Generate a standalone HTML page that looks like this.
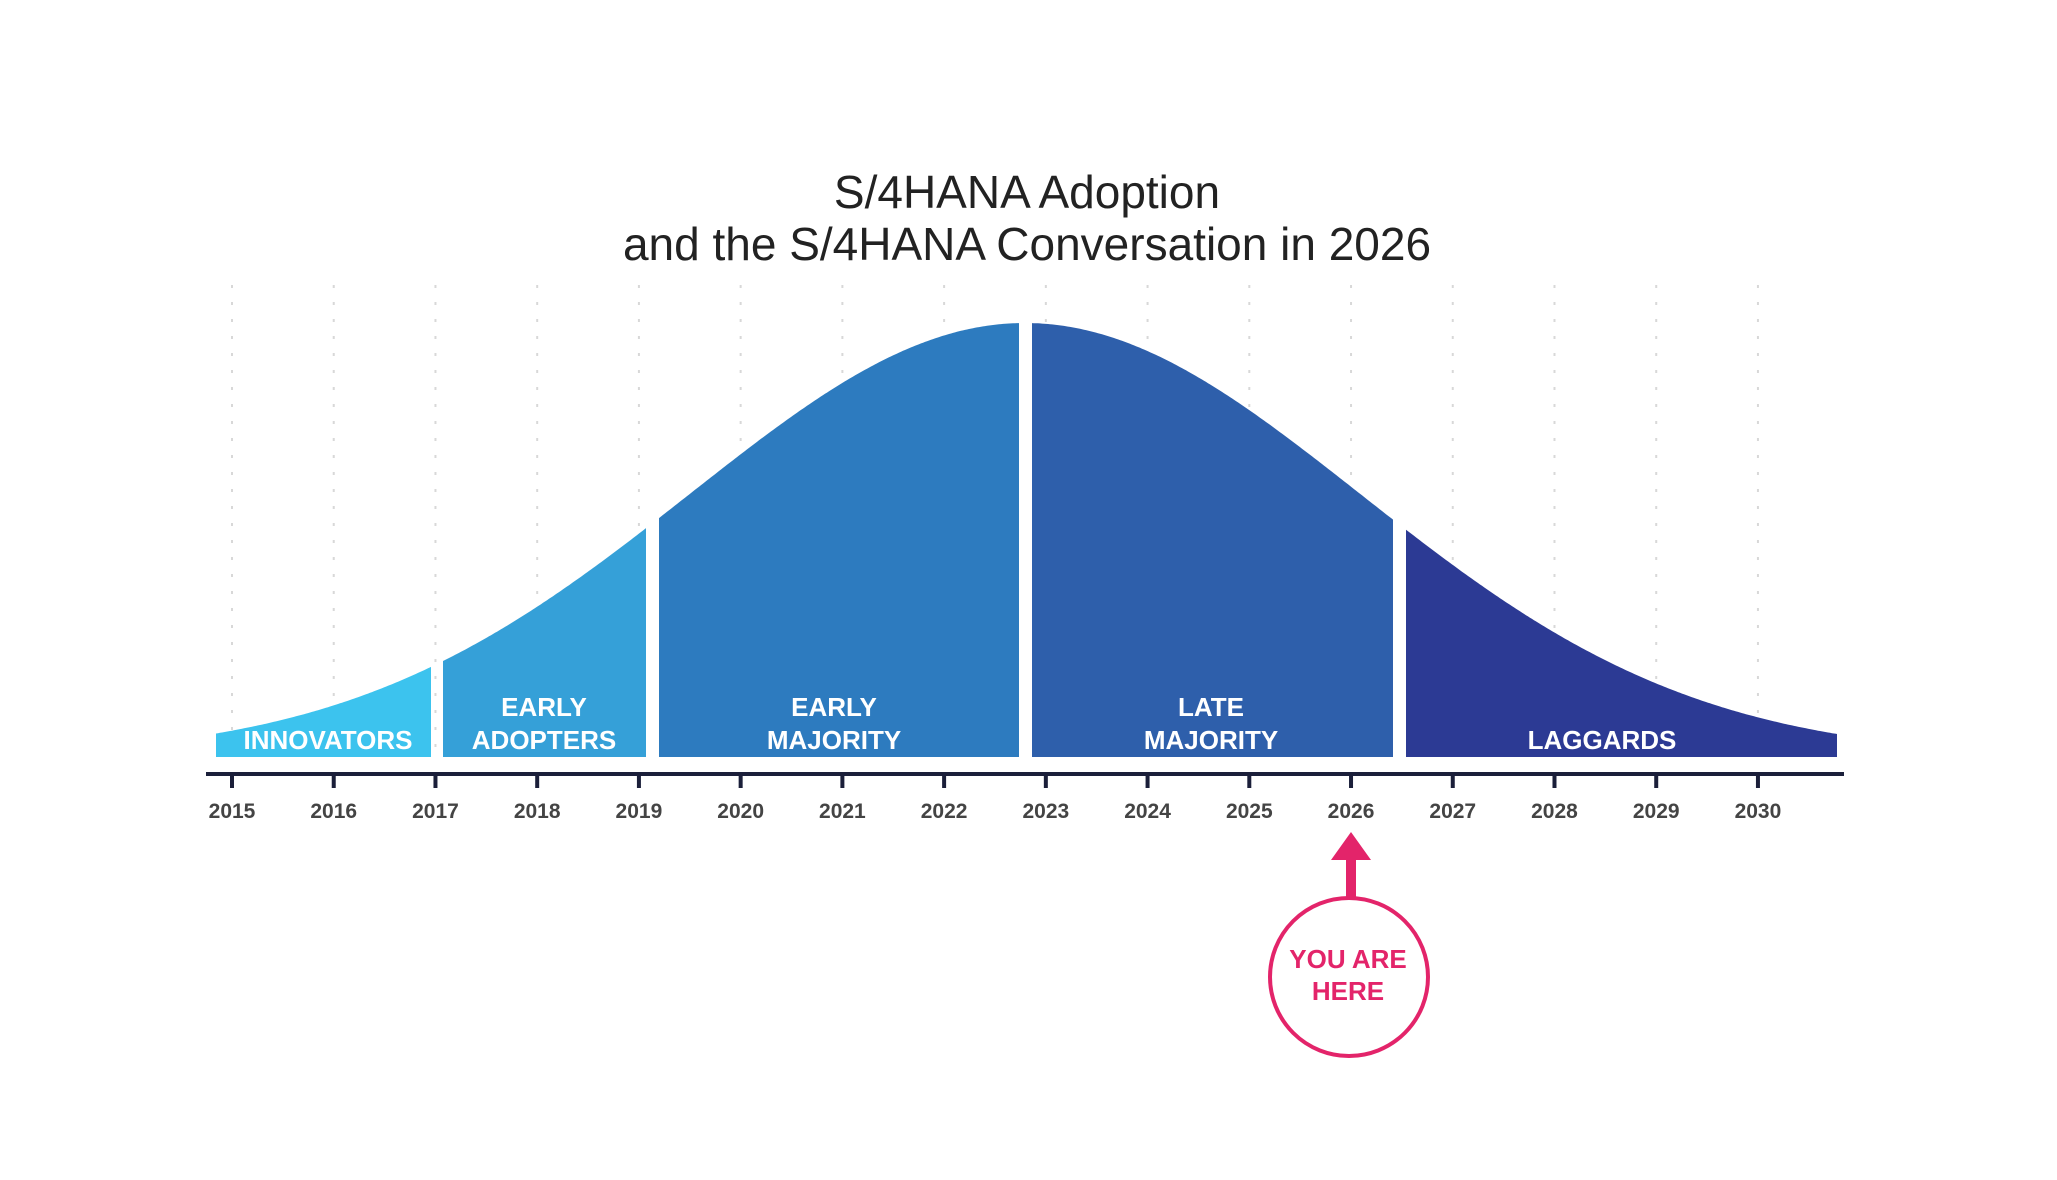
<!DOCTYPE html>
<html><head><meta charset="utf-8"><style>
html,body{margin:0;padding:0;background:#fff;}
svg{display:block;}
text{font-family:"Liberation Sans",sans-serif;}
</style></head><body>
<svg id="s" width="2057" height="1180" viewBox="0 0 2057 1180" xmlns="http://www.w3.org/2000/svg">
<rect width="2057" height="1180" fill="#fff"/>
<g id="grid" stroke="#d8d8d8" stroke-width="2" stroke-dasharray="3,14"></g>
<g id="areas"></g>
<text x="1027" y="208" font-size="46" fill="#222" text-anchor="middle">S/4HANA Adoption</text>
<text x="1027" y="260" font-size="46" fill="#222" text-anchor="middle">and the S/4HANA Conversation in 2026</text>
<g fill="#fff" font-weight="bold" font-size="26" text-anchor="middle">
<text x="328" y="749">INNOVATORS</text>
<text x="544" y="716">EARLY</text><text x="544" y="749">ADOPTERS</text>
<text x="834" y="716">EARLY</text><text x="834" y="749">MAJORITY</text>
<text x="1211" y="716">LATE</text><text x="1211" y="749">MAJORITY</text>
<text x="1602" y="749">LAGGARDS</text>
</g>
<rect x="206" y="772" width="1638" height="4" fill="#1b1f3a"/>
<g id="ticks"></g>
<g fill="#e3246a">
<polygon points="1351,832 1331,860 1371,860"/>
<rect x="1346" y="858" width="10" height="40"/>
</g>
<circle cx="1349" cy="977" r="79" fill="#fff" stroke="#e3246a" stroke-width="4"/>
<g fill="#e3246a" font-weight="bold" font-size="26" text-anchor="middle">
<text x="1348" y="968">YOU ARE</text><text x="1348" y="1000">HERE</text>
</g>
</svg>
<script>
var NS="http://www.w3.org/2000/svg";
function el(t,a,p){var e=document.createElementNS(NS,t);for(var k in a)e.setAttribute(k,a[k]);p.appendChild(e);return e;}
var c=1025,s=335,A=434,B=757;
function y(x){return B-A*Math.exp(-(x-c)*(x-c)/(2*s*s));}
var segs=[[216,431,"#3cc3ee"],[443,646,"#35a0d8"],[659,1019,"#2d7bbf"],[1032,1393,"#2e5fab"],[1406,1837,"#2c3a94"]];
var ar=document.getElementById("areas");
segs.forEach(function(g){var d="M"+g[0]+","+B;for(var x=g[0];x<=g[1];x+=2)d+=" L"+x+","+y(x).toFixed(1);d+=" L"+g[1]+","+y(g[1]).toFixed(1)+" L"+g[1]+","+B+" Z";el("path",{d:d,fill:g[2]},ar);});
var gr=document.getElementById("grid"),tk=document.getElementById("ticks");
for(var i=0;i<16;i++){var x=232+i*101.73;
el("line",{x1:x,y1:285,x2:x,y2:757},gr);
el("rect",{x:x-2,y:774,width:4,height:14,fill:"#1b1f3a"},tk);
var t=el("text",{x:x,y:818,"font-size":21,"font-weight":"bold",fill:"#444","text-anchor":"middle"},tk);t.textContent=2015+i;}
</script>
</body></html>
